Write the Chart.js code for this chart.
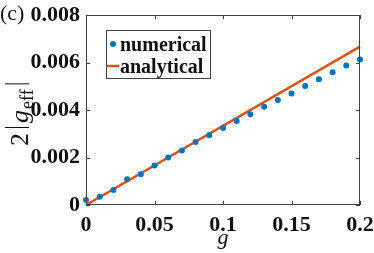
<!DOCTYPE html>
<html>
<head>
<meta charset="utf-8">
<script src="https://cdn.jsdelivr.net/npm/chart.js@4"></script>
<style>
  html, body { margin: 0; padding: 0; background: #fff; }
  #wrap { width: 374px; height: 253px; position: relative; }
</style>
</head>
<body>
<div id="wrap"><canvas id="c"></canvas></div>
<script>
// numerical points, g = 0 ... 0.2
const gValues = [0, 0.01, 0.02, 0.03, 0.04, 0.05, 0.06, 0.07, 0.08, 0.09, 0.10,
                 0.11, 0.12, 0.13, 0.14, 0.15, 0.16, 0.17, 0.18, 0.19, 0.20];
const numerical = [0.00021, 0.00035, 0.00063, 0.00108, 0.00130, 0.00166, 0.00200, 0.00230,
                   0.00265, 0.00295, 0.00324, 0.00354, 0.00382, 0.00414, 0.00442, 0.00470,
                   0.00501, 0.00529, 0.00559, 0.00587, 0.00613];
// analytical straight line
const analyticalG = [0, 0.2];
const analytical = [0, 0.00667];

const xTicks = [0, 0.05, 0.1, 0.15, 0.2];
const yTicks = [0, 0.002, 0.004, 0.006, 0.008];

const BLUE = '#0072BD';
const ORANGE = '#D95319';
const AXIS = '#404040';
const SERIF = '"Liberation Serif", "Times New Roman", serif';

const fmt = v => v === 0 ? '0' : String(parseFloat(v.toFixed(3)));

// box + inward ticks, like a matlab axes
const boxPlugin = {
  id: 'box',
  afterDatasetsDraw(chart) {
    const { ctx, chartArea: a, scales: { x, y } } = chart;
    ctx.save();
    ctx.strokeStyle = AXIS;
    ctx.lineWidth = 1;
    ctx.strokeRect(a.left + 0.5, a.top + 0.5, a.right - a.left - 1, a.bottom - a.top - 1);
    const L = 4;
    ctx.beginPath();
    xTicks.forEach(t => {
      const px = Math.round(x.getPixelForValue(t)) + 0.5;
      ctx.moveTo(px, a.bottom); ctx.lineTo(px, a.bottom - L);
      ctx.moveTo(px, a.top); ctx.lineTo(px, a.top + L);
    });
    yTicks.forEach(t => {
      const py = Math.round(y.getPixelForValue(t)) + 0.5;
      ctx.moveTo(a.left, py); ctx.lineTo(a.left + L, py);
      ctx.moveTo(a.right, py); ctx.lineTo(a.right - L, py);
    });
    ctx.stroke();
    ctx.restore();
  }
};

// legend box, y title and panel label
const extrasPlugin = {
  id: 'extras',
  afterDraw(chart) {
    const { ctx } = chart;
    ctx.save();
    // legend
    ctx.fillStyle = '#fff';
    ctx.fillRect(106, 30, 104, 48);
    ctx.strokeStyle = AXIS;
    ctx.lineWidth = 1;
    ctx.strokeRect(106.5, 30.5, 104, 48);
    ctx.fillStyle = BLUE;
    ctx.beginPath(); ctx.arc(113, 44, 3, 0, Math.PI * 2); ctx.fill();
    ctx.strokeStyle = ORANGE;
    ctx.lineWidth = 2.5;
    ctx.beginPath(); ctx.moveTo(107, 66); ctx.lineTo(119, 66); ctx.stroke();
    ctx.fillStyle = '#111';
    ctx.font = 'bold 20px ' + SERIF;
    ctx.textBaseline = 'alphabetic';
    ctx.textAlign = 'left';
    ctx.fillText('numerical', 120, 51);
    ctx.fillText('analytical', 120, 73);

    // panel label
    ctx.font = '22px ' + SERIF;
    ctx.fillText('(c)', 0, 20);

    // y title: 2|g_eff|
    ctx.translate(28, 146);
    ctx.rotate(-Math.PI / 2);
    ctx.strokeStyle = '#111';
    ctx.lineWidth = 1;
    const bar = t => { ctx.beginPath(); ctx.moveTo(t + 0.5, 1); ctx.lineTo(t + 0.5, -23); ctx.stroke(); };
    let t = 0;
    ctx.font = '26px ' + SERIF;
    ctx.fillText('2', t, 0); t += ctx.measureText('2').width + 5;
    bar(t); t += 5;
    ctx.font = 'italic 26px ' + SERIF;
    ctx.fillText('g', t, 0); t += ctx.measureText('g').width + 1;
    ctx.font = '18px ' + SERIF;
    ctx.fillText('eff', t, 5); t += ctx.measureText('eff').width + 5;
    bar(t);
    ctx.restore();
  }
};

new Chart(document.getElementById('c'), {
  type: 'scatter',
  data: {
    datasets: [
      {
        label: 'analytical',
        data: analyticalG.map((g, i) => ({ x: g, y: analytical[i] })),
        showLine: true,
        borderColor: ORANGE,
        borderWidth: 2.5,
        pointRadius: 0,
        order: 2
      },
      {
        label: 'numerical',
        data: gValues.map((g, i) => ({ x: g, y: numerical[i] })),
        showLine: false,
        backgroundColor: BLUE,
        borderColor: BLUE,
        pointRadius: 3,
        borderWidth: 0,
        order: 1
      }
    ]
  },
  options: {
    responsive: true,
    maintainAspectRatio: false,
    animation: false,
    clip: false,
    layout: { padding: { top: 15, right: 14, left: 0, bottom: 0 } },
    plugins: { legend: { display: false }, tooltip: { enabled: false } },
    scales: {
      x: {
        type: 'linear',
        min: 0, max: 0.2,
        afterBuildTicks: s => { s.ticks = xTicks.map(v => ({ value: v })); },
        afterFit: s => { s.height = 48; s.paddingRight = 0; s.paddingLeft = 0; },
        grid: { display: false, drawTicks: false },
        border: { display: false },
        ticks: {
          padding: 7,
          color: '#111',
          font: { family: SERIF, size: 22, weight: 'bold' },
          callback: v => String(parseFloat(v.toFixed(2))),
          maxRotation: 0
        },
        title: {
          display: true,
          text: 'g',
          color: '#111',
          font: { family: SERIF, size: 22, style: 'italic' },
          padding: { top: 0, bottom: 2 }
        }
      },
      y: {
        type: 'linear',
        min: 0, max: 0.008,
        afterBuildTicks: s => { s.ticks = yTicks.map(v => ({ value: v })); },
        afterFit: s => { s.width = 86; s.paddingTop = 0; s.paddingBottom = 0; },
        grid: { display: false, drawTicks: false },
        border: { display: false },
        ticks: {
          padding: 6,
          color: '#111',
          font: { family: SERIF, size: 22, weight: 'bold' },
          callback: v => fmt(v)
        }
      }
    }
  },
  plugins: [boxPlugin, extrasPlugin]
});
</script>
</body>
</html>
